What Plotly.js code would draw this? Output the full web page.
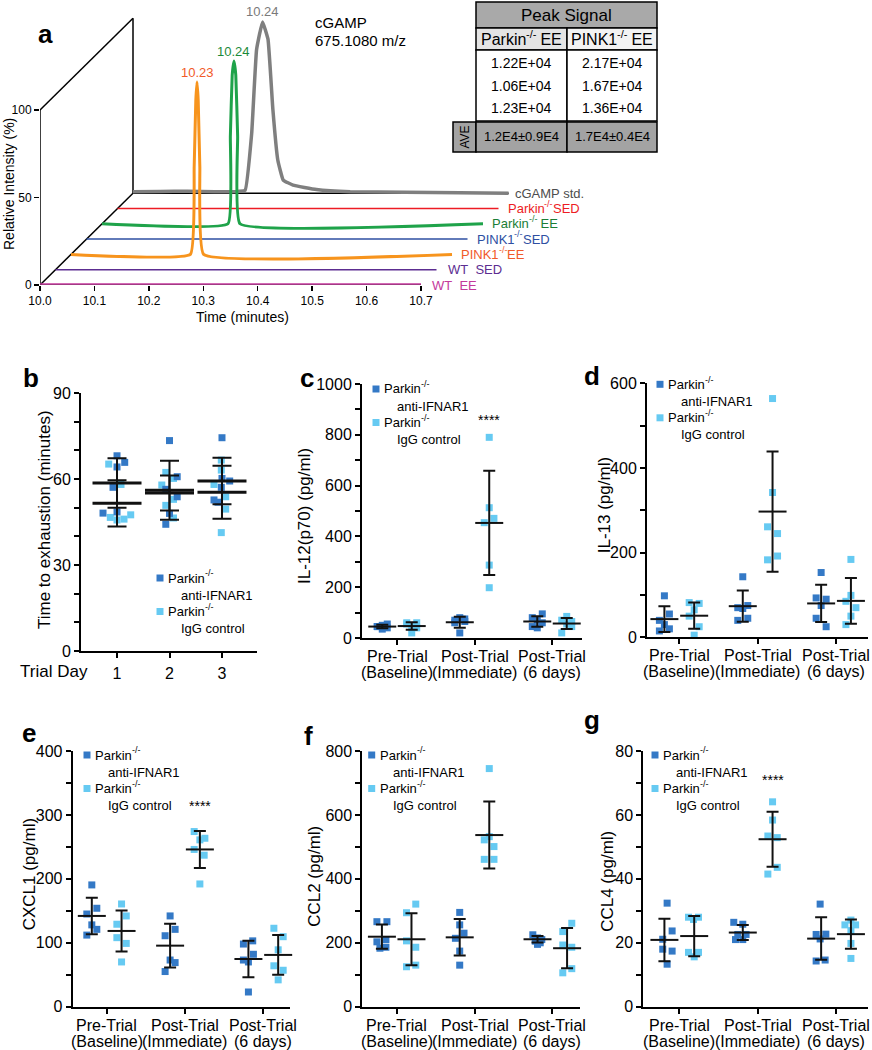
<!DOCTYPE html>
<html><head><meta charset="utf-8">
<script src="https://cdn.plot.ly/plotly-3.0.1.min.js"></script>
<style>html,body{margin:0;padding:0;background:#fff}</style>
</head><body><div id="chart" style="width:872px;height:1050px"></div>
<script>
// ================= DATA =================
// ---- Panel a: chromatograms (time, min ; relative intensity, %) ----
const chromNames = ['cGAMP std.', 'Parkin<sup>-/-</sup>SED', 'Parkin<sup>-/-</sup> EE', 'PINK1<sup>-/-</sup>SED', 'PINK1<sup>-/-</sup>EE', 'WT\u00a0\u00a0SED', 'WT\u00a0\u00a0EE'];
const stdTime = [10.0, 10.05, 10.10, 10.15, 10.19, 10.206, 10.218, 10.227, 10.238, 10.248, 10.257, 10.266, 10.276, 10.294, 10.337, 10.399, 10.50, 10.60, 10.69];
const stdInt  = [0.8, 1.0, 1.1, 0.8, 0.9, 1.7, 34, 82, 97.9, 88, 47.7, 19, 7.5, 4.6, 2.1, 0.8, 0.5, 0.2, 0.0];
const stdBaseTime = [10.0, 10.69];
const stdBaseInt = [0, 0];
const parkinEETime = [10.0, 10.2315, 10.2358, 10.2392, 10.2425, 10.2458, 10.2492, 10.2535, 10.70];
const parkinEEInt  = [0, 0, 50, 85, 93, 85, 50, 0, 0];
const pink1EETime = [10.0, 10.2193, 10.2263, 10.2293, 10.2315, 10.2337, 10.2367, 10.2437, 10.70];
const pink1EEInt  = [0, 0, 50, 88, 98.5, 88, 50, 0, 0];
const sedTime = [10.0, 10.70];
const parkinSEDInt = [0, 0];
const pink1SEDInt = [0, 0];
const wtSEDInt = [0, 0];
const wtEEInt = [0.6, 0.6];
const peakLabels = ['10.24', '10.24', '10.23'];   // cGAMP std, Parkin EE, PINK1 EE
const aTickVals = [10.0, 10.1, 10.2, 10.3, 10.4, 10.5, 10.6, 10.7];
const aYTickVals = [0, 50, 100];
const cgampLines = ['cGAMP', '675.1080 m/z'];

// ---- Panel a: table ----
const tableTitle = 'Peak Signal';
const tableCols = ['Parkin<sup>-/-</sup> EE', 'PINK1<sup>-/-</sup> EE'];
const parkinEEPeak = ['1.22E+04', '1.06E+04', '1.23E+04'];
const pink1EEPeak  = ['2.17E+04', '1.67E+04', '1.36E+04'];
const aveLabel = 'AVE';
const aveVals = ['1.2E4\u00b10.9E4', '1.7E4\u00b10.4E4'];

// ---- common ----
const legendLines = ['Parkin<sup>-/-</sup>', 'anti-IFNAR1', 'Parkin<sup>-/-</sup>', 'IgG control'];
const trialDays = [1, 2, 3];
const timeLine1 = ['Pre-Trial', 'Post-Trial', 'Post-Trial'];
const timeLine2 = ['(Baseline)', '(Immediate)', '(6 days)'];
const sigText = '****';

// ---- Panel b: time to exhaustion (min) ----
const bDark  = [[68.1, 64.2, 65.8, 57.1, 48.1, 48.5], [73.4, 60.8, 56.4, 53.8, 48.0, 44.2], [74.4, 60.2, 59.3, 57.1, 52.7, 51.9]];
const bDarkJit  = [[0, 0, 7.7, -4, -14, 0], [0, 7.7, -3.7, 7.7, 0, -3.7], [0, 0, 7.7, -0.7, -8, -4]];
const bLight = [[65.2, 58.1, 46.6, 45.7, 46.0, 47.5], [62.3, 60.2, 57.9, 52.9, 50.8, 46.4], [66.6, 63.1, 58.1, 53.8, 49.5, 41.3]];
const bLightJit = [[-8.3, 4, -6.7, 0, 7, 13.7], [-3.7, 4, -7.7, 4, -3.7, 4], [-0.7, -0.7, -8, 3.7, 3.7, -0.7]];
const bDarkMean = [58.6, 56.1, 59.3], bDarkSD = [8.6, 10.3, 8.1];
const bLightMean = [51.5, 55.1, 55.4], bLightSD = [8.1, 6.1, 9.25];

// ---- Panel c: IL-12(p70) ----
const cDark  = [[35, 40, 45, 50, 55, 45], [80, 75, 70, 65, 60, 20], [95, 80, 70, 60, 45, 40]];
const cDarkJit  = [[0, 5, -5, 0, 5, -5], [0, 5, -5, 5, -5, 0], [5, -5, 0, 5, -5, 0]];
const cLight = [[60, 60, 20, 40, 55, 45], [790, 513, 471, 454, 287, 198], [85, 70, 65, 55, 45, 20]];
const cLightJit = [[-5, 5, 0, 5, -5, 0], [0, 0, 4.7, -5, 0, 0], [0, -5, 5, 0, 5, -5]];
const cDarkMean = [45, 62, 65], cDarkSD = [7, 22, 21];
const cLightMean = [47, 453, 57], cLightSD = [15, 205, 22];

// ---- Panel d: IL-13 ----
const dDark  = [[98, 55, 40, 30, 20, 15], [143, 75, 70, 68, 45, 40], [153, 93, 90, 75, 45, 25]];
const dDarkJit  = [[0, 5, -5, 0, 5, -5], [0, 5, -5, 0, 5, -5], [0, -5, 5, 0, -5, 5]];
const dLight = [[82, 80, 65, 50, 25, 5], [564, 342, 261, 245, 183, 192], [184, 99, 85, 70, 50, 30]];
const dLightJit = [[-5, 5, 0, -5, 5, 0], [0, 0, -5, 5, -5, 5], [0, 0, -5, 5, 0, -5]];
const dDarkMean = [43, 73.5, 80], dDarkSD = [30.5, 36.9, 44];
const dLightMean = [51, 297, 86], dLightSD = [31, 142, 54];

// ---- Panel e: CXCL1 ----
const eDark  = [[190.5, 154, 145, 128, 121, 112], [142, 111, 121, 73, 69, 55], [103, 98, 82, 73, 70, 23]];
const eDarkJit  = [[0, 5, -5, 0, 5, -5], [0, -5, 5, 0, 5, -5], [4.3, -5, 5, -5, 0, 0]];
const eLight = [[160.7, 142, 129, 108, 99, 70], [274, 261, 263.5, 246, 237, 192], [122.7, 109.5, 89, 64, 57, 42]];
const eLightJit = [[0, 4.7, -4.7, -4.7, 4.7, 0], [-5.7, 0, 5, -5.7, 4.3, 0], [-4.3, 5, 0, -4.3, 5, 0]];
const eDarkMean = [142, 95.5, 74.6], eDarkSD = [28.6, 34.2, 28.5];
const eLightMean = [118.5, 246, 81], eLightSD = [32, 29, 31];

// ---- Panel f: CCL2 ----
const fDark  = [[266, 266, 203, 210, 183, 186], [295, 256, 230, 214, 174, 130], [225, 215, 210, 205, 200, 195]];
const fDarkJit  = [[-5, 5, -5, 4, -2, 4], [0, 0, 4.3, -4.3, 0, 0], [-4.7, 0, 4.3, -2.3, 2.7, 0]];
const fLight = [[321, 294, 206, 186, 125, 130], [745, 532, 522, 501, 461, 461], [235, 261, 193, 186, 106, 119]];
const fLightJit = [[4.3, -5, -5, 4.3, -5, 4.3], [0, 0, -5, 4.7, -5, 4.7], [-4.3, 4.7, -4.3, 4.7, -4.3, 4.7]];
const fDarkMean = [219, 217, 211], fDarkSD = [38, 57, 10];
const fLightMean = [211, 537, 183], fLightSD = [81, 105, 63];

// ---- Panel g: CCL4 ----
const gDark  = [[32.4, 23.7, 21.1, 18, 17.4, 13.3], [26.4, 25.8, 22.6, 22.6, 21, 21], [32.1, 22.6, 22.7, 21.2, 14.3, 14.6]];
const gDarkJit  = [[2.7, 7.7, -1.7, -1.7, 7.7, 2.7], [-9, 0, -5, 3.3, -7.3, 0], [-1, -5, 4.7, -1, -5, 4]];
const gLight = [[28, 28, 27.3, 17, 17, 15.6], [64.1, 58.4, 53.4, 52.9, 43.6, 41.5], [27.1, 25.6, 25.6, 23.8, 19.8, 15.1]];
const gLightJit = [[-5.7, 4.3, -0.7, -5.7, 4.3, 0], [0, 0, -4.7, 4.7, 4.7, -4.7], [0, -6, 4.7, 0, 0, 0]];
const gDarkMean = [20.9, 23.2, 21.3], gDarkSD = [6.65, 2.35, 6.65];
const gLightMean = [22.1, 52.4, 22.7], gLightSD = [6.3, 8.6, 4.55];

// ================= LAYOUT / DRAWING =================
const W = 872, H = 1050;
const px = v => v / W;
const py = v => 1 - v / H;
const FONT = 'Liberation Sans, Arial, Helvetica, sans-serif';
const DARK = '#3479c6', LIGHT = '#66caf2';

const traces = [], shapes = [], annotations = [];
const layout = {
  width: W, height: H, margin: {l: 0, r: 0, t: 0, b: 0}, showlegend: false,
  paper_bgcolor: '#fff', plot_bgcolor: 'rgba(0,0,0,0)',
  font: {family: FONT, color: '#000', size: 12}, shapes, annotations
};

// text measuring for superscript layout
const mctx = document.createElement('canvas').getContext('2d');
function tw(s, size) { mctx.font = size + 'px "Liberation Sans", Arial, sans-serif'; return mctx.measureText(s).width; }
function splitSup(s) {
  const m = s.match(/^(.*?)<sup>(.*?)<\/sup>(.*)$/);
  return m ? [m[1], m[2], m[3].replace(/^ /, '\u00a0')] : [s, '', ''];
}

// generic text (paper pixel coords); handles one <sup> by splitting into separate annotations
function addText(text, x, y, size, o = {}) {
  const base = {xref: o.xref || 'paper', yref: o.yref || 'paper', showarrow: false, yanchor: 'middle',
    textangle: o.angle || 0};
  const X = o.xref && o.xref !== 'paper' ? x : px(x);
  const Y = o.yref && o.yref !== 'paper' ? y : py(y);
  const font = sz => ({family: FONT, size: sz, color: o.color || '#000', weight: o.weight || 'normal'});
  const [a, s, b] = splitSup(text);
  if (!s) {
    annotations.push(Object.assign({}, base, {text, x: X, y: Y, xanchor: o.xanchor || 'center',
      xshift: o.xshift || 0, yshift: o.yshift || 0, font: font(size)}));
    return;
  }
  const ss = Math.round(size * 0.7);
  const wa = tw(a, size), ws = tw(s, ss), wb = tw(b, size);
  let start = (o.xshift || 0);
  if ((o.xanchor || 'center') === 'center') start -= (wa + ws + wb) / 2;
  annotations.push(Object.assign({}, base, {text: a, x: X, y: Y, xanchor: 'left', xshift: start, yshift: o.yshift || 0, font: font(size), borderpad: 0, borderwidth: 0}));
  annotations.push(Object.assign({}, base, {text: s, x: X, y: Y, xanchor: 'left', xshift: start + wa, yshift: (o.yshift || 0) + size * 0.36, font: font(ss), borderpad: 0, borderwidth: 0}));
  if (b) annotations.push(Object.assign({}, base, {text: b, x: X, y: Y, xanchor: 'left', xshift: start + wa + ws, yshift: o.yshift || 0, font: font(size), borderpad: 0, borderwidth: 0}));
}
function rect(x0, y0, x1, y1, fill, lw) {
  shapes.push({type: 'rect', xref: 'paper', yref: 'paper', x0: px(x0), x1: px(x1), y0: py(y1), y1: py(y0),
    fillcolor: fill, line: {color: '#000', width: lw === undefined ? 1.5 : lw}, layer: 'above'});
}

// ---------- Panel a ----------
const A = {xl: 40, xr: 600, y0: 285, yt: 5, pxPerMin: 544.3, pxPerPct: 1.75};
const dT = 15.5 / A.pxPerMin, dI = 15.3 / A.pxPerPct;
layout.xaxis = {
  domain: [px(A.xl), px(A.xr)], range: [aTickVals[0], aTickVals[0] + (A.xr - A.xl) / A.pxPerMin], anchor: 'y',
  showline: false, showgrid: false, zeroline: false, ticks: 'outside', ticklen: 5, tickwidth: 1.5, tickcolor: '#000',
  tickmode: 'array', tickvals: aTickVals, ticktext: aTickVals.map(v => v.toFixed(1)), tickfont: {size: 12}, fixedrange: true
};
layout.yaxis = {
  domain: [py(A.y0), py(A.yt)], range: [0, (A.y0 - A.yt) / A.pxPerPct], anchor: 'x',
  showline: false, showgrid: false, zeroline: false, ticks: 'outside', ticklen: 5, tickwidth: 1.5, tickcolor: '#000',
  tickmode: 'array', tickvals: aYTickVals, tickfont: {size: 12}, fixedrange: true
};
function aLine(t0, i0, t1, i1) {
  shapes.push({type: 'line', xref: 'x', yref: 'y', x0: t0, y0: i0, x1: t1, y1: i1, line: {color: '#000', width: 1.5}, layer: 'below'});
}
const tMin = aTickVals[0], tMax = aTickVals[aTickVals.length - 1], iMax = aYTickVals[aYTickVals.length - 1];
aLine(tMin, 0, tMax, 0);
aLine(tMin, 0, tMin, iMax);
aLine(tMin, iMax, tMin + 6 * dT, iMax + 6 * dI);
aLine(tMin, 0, tMin + 6 * dT, 6 * dI);
aLine(tMin + 6 * dT, 6 * dI, tMin + 6 * dT, iMax + 6 * dI);

const chrom = [
  {name: chromNames[0], t: stdTime, i: stdInt, d: 6, color: '#7f7f7f', w: 3.5, lc: '#4d4d4d', peak: peakLabels[0], pc: '#7a7a7a'},
  {name: chromNames[1], t: sedTime, i: parkinSEDInt, d: 5, color: '#ed1c24', w: 1.5, lc: '#ed1c24'},
  {name: chromNames[2], t: parkinEETime, i: parkinEEInt, d: 4, color: '#1fa34a', w: 3, lc: '#1b7e36', peak: peakLabels[1], pc: '#1b8a3a'},
  {name: chromNames[3], t: sedTime, i: pink1SEDInt, d: 3, color: '#2e4fa2', w: 1.5, lc: '#2e4fa2'},
  {name: chromNames[4], t: pink1EETime, i: pink1EEInt, d: 2, color: '#f7941d', w: 3, lc: '#f15a29', peak: peakLabels[2], pc: '#f15a29'},
  {name: chromNames[5], t: sedTime, i: wtSEDInt, d: 1, color: '#5c2d91', w: 1.5, lc: '#5c2d91'},
  {name: chromNames[6], t: sedTime, i: wtEEInt, d: 0, color: '#c4399c', w: 1.5, lc: '#c4399c'}
];
traces.push({type: 'scatter', mode: 'lines', xaxis: 'x', yaxis: 'y',
  x: stdBaseTime.map(t => t + 6 * dT), y: stdBaseInt.map(v => v + 6 * dI), line: {color: '#000', width: 1.5}, hoverinfo: 'skip'});
chrom.forEach(s => {
  traces.push({type: 'scatter', mode: 'lines', xaxis: 'x', yaxis: 'y',
    x: s.t.map(t => t + s.d * dT), y: s.i.map(v => v + s.d * dI),
    line: {color: s.color, width: s.w, shape: 'spline', smoothing: 0.3}, hoverinfo: 'skip'});
  addText(s.name, s.t[s.t.length - 1] + s.d * dT, s.d * dI, 13,
    {xref: 'x', yref: 'y', xanchor: 'left', xshift: s.d === 6 ? 4 : 9, color: s.lc});
  if (s.peak) {
    let k = 0; s.i.forEach((v, j) => { if (v > s.i[k]) k = j; });
    addText(s.peak, s.t[k] + s.d * dT, s.i[k] + s.d * dI, 13, {xref: 'x', yref: 'y', yshift: 10, color: s.pc});
  }
});
addText('Relative Intensity (%)', 9, 184, 14, {angle: -90});
addText('Time (minutes)', 242, 317, 14);
addText(cgampLines[0], 313, 23, 15, {xanchor: 'left'});
addText(cgampLines[1], 313, 41, 15, {xanchor: 'left'});

// table
rect(476, 2, 657, 28, '#a9a9a9');
rect(476, 28, 567, 50, '#e4e4e4');
rect(567, 28, 657, 50, '#f3f3f3');
rect(476, 50, 567, 121, '#ffffff');
rect(567, 50, 657, 121, '#ffffff');
rect(453, 122, 476, 152, '#a3a3a3');
rect(476, 122, 567, 152, '#a3a3a3');
rect(567, 122, 657, 152, '#a3a3a3');
addText(tableTitle, 566.5, 15.5, 17);
addText(tableCols[0], 521.5, 39.5, 16);
addText(tableCols[1], 612, 39.5, 16);
const rowY = [63, 86, 108.3];
parkinEEPeak.forEach((v, j) => addText(v, 521.5, rowY[j], 14));
pink1EEPeak.forEach((v, j) => addText(v, 612, rowY[j], 14));
addText(aveVals[0], 521.5, 137, 13);
addText(aveVals[1], 612, 137, 13);
addText(aveLabel, 464.5, 137, 12, {angle: -90});

// ---------- Panels b-g ----------
function buildPanel(k, cfg) {
  const xa = 'xaxis' + k, ya = 'yaxis' + k, xr = 'x' + k, yr = 'y' + k;
  const pxPerUnit = (cfg.xr - cfg.xl) / (cfg.xrange[1] - cfg.xrange[0]);
  layout[xa] = {
    domain: [px(cfg.xl), px(cfg.xr)], range: cfg.xrange, anchor: yr,
    showline: true, linewidth: 2, linecolor: '#000', mirror: false,
    ticks: 'outside', ticklen: 5, tickwidth: 2, tickcolor: '#000', showgrid: false, zeroline: false,
    tickmode: 'array', tickvals: cfg.cats, ticktext: cfg.tickText || cfg.cats.map(() => ''),
    showticklabels: !!cfg.tickText, tickfont: {size: 16}, ticklabelstandoff: 2, fixedrange: true
  };
  layout[ya] = {
    domain: [py(cfg.yb), py(cfg.yt)], range: [0, cfg.ymax], anchor: xr,
    showline: true, linewidth: 2, linecolor: '#000',
    ticks: 'outside', ticklen: 5, tickwidth: 2, tickcolor: '#000', showgrid: false, zeroline: false,
    tickmode: 'linear', tick0: 0, dtick: cfg.dtick, tickfont: {size: 16}, ticklabelstandoff: 0,
    minor: {ticks: 'outside', ticklen: 5, tickwidth: 2, tickcolor: '#000', dtick: cfg.minor, tick0: 0, showgrid: false},
    fixedrange: true
  };
  const groups = [
    {vals: cfg.dark, jit: cfg.darkJit, mean: cfg.darkMean, sd: cfg.darkSD, color: DARK, off: -cfg.off},
    {vals: cfg.light, jit: cfg.lightJit, mean: cfg.lightMean, sd: cfg.lightSD, color: LIGHT, off: cfg.off}
  ];
  const order = cfg.lightFirst ? [1, 0] : [0, 1];
  order.forEach(gi => {
    const g = groups[gi];
    const xs = [], ys = [];
    g.vals.forEach((arr, ci) => arr.forEach((v, j) => {
      xs.push(cfg.cats[ci] + g.off + g.jit[ci][j] / pxPerUnit); ys.push(v);
    }));
    traces.push({type: 'scatter', mode: 'markers', xaxis: xr, yaxis: yr, x: xs, y: ys, cliponaxis: false,
      marker: {symbol: 'square', size: 7, color: g.color, line: {width: 0}}, hoverinfo: 'skip'});
  });
  groups.forEach(g => {
    traces.push({type: 'scatter', mode: 'markers', xaxis: xr, yaxis: yr, cliponaxis: false,
      x: cfg.cats.map(c => c + g.off), y: g.mean,
      marker: {symbol: 'line-ew', size: cfg.meanLen, color: '#111', line: {width: cfg.meanW, color: '#111'}},
      error_y: {type: 'data', array: g.sd, visible: true, color: '#111', thickness: 2, width: cfg.capW},
      hoverinfo: 'skip'});
  });
  const L = cfg.legend;
  const rows = [0, 17, 33.5, 50];
  rect(L.x - 3.5, L.y + rows[0] - 3.5, L.x + 3.5, L.y + rows[0] + 3.5, DARK, 0);
  rect(L.x - 3.5, L.y + rows[2] - 3.5, L.x + 3.5, L.y + rows[2] + 3.5, LIGHT, 0);
  addText(legendLines[0], L.x + 8, L.y + rows[0], 13, {xanchor: 'left'});
  addText(legendLines[1], L.x + 19, L.y + rows[1], 13, {xanchor: 'left'});
  addText(legendLines[2], L.x + 8, L.y + rows[2], 13, {xanchor: 'left'});
  addText(legendLines[3], L.x + 19, L.y + rows[3], 13, {xanchor: 'left'});
  addText(cfg.title, cfg.titleX, (cfg.yb + cfg.yt) / 2 + (cfg.titleDY || 0), 17, {angle: -90});
  addText(cfg.letter, cfg.letterX, cfg.letterY, 26, {weight: 'bold'});
  if (cfg.sigY !== undefined) {
    addText(sigText, cfg.cats[1] + cfg.off, cfg.sigY, 14, {xref: xr, yref: yr, yshift: -3});
  }
  if (!cfg.tickText) {
    cfg.cats.forEach((c, ci) => {
      annotations.push({text: timeLine1[ci], xref: xr, yref: 'paper', x: c, y: py(cfg.yb + 18.5), showarrow: false,
        xanchor: 'center', yanchor: 'middle', font: {family: FONT, size: 16, color: '#000'}});
      annotations.push({text: timeLine2[ci], xref: xr, yref: 'paper', x: c, y: py(cfg.yb + 34.5), showarrow: false,
        xanchor: 'center', yanchor: 'middle', font: {family: FONT, size: 16, color: '#000'}});
    });
  }
}

const cat3 = [0, 1, 2];
buildPanel(2, {xl: 81, xr: 257, yb: 651, yt: 393, xrange: [0.314, 3.667], ymax: 90, dtick: 30, minor: 10,
  cats: trialDays, tickText: trialDays.map(String), off: 0, meanLen: 35, meanW: 3, capW: 9.5, lightFirst: true,
  dark: bDark, darkJit: bDarkJit, light: bLight, lightJit: bLightJit,
  darkMean: bDarkMean, darkSD: bDarkSD, lightMean: bLightMean, lightSD: bLightSD,
  legend: {x: 160, y: 578}, title: 'Time to exhaustion (minutes)', titleX: 44, titleDY: -2,
  letter: 'b', letterX: 31, letterY: 377.5});
addText('Trial Day', 53.5, 671, 17);

buildPanel(3, {xl: 362, xr: 582, yb: 638, yt: 384, xrange: [-0.4516, 2.387], ymax: 1000, dtick: 200, minor: 100,
  cats: cat3, off: 0.19, meanLen: 20, meanW: 2, capW: 6,
  dark: cDark, darkJit: cDarkJit, light: cLight, lightJit: cLightJit,
  darkMean: cDarkMean, darkSD: cDarkSD, lightMean: cLightMean, lightSD: cLightSD,
  legend: {x: 376, y: 389}, title: 'IL-12(p70) (pg/ml)', titleX: 304, titleDY: 5,
  letter: 'c', letterX: 307, letterY: 378, sigY: 870});

buildPanel(4, {xl: 647, xr: 868, yb: 637.3, yt: 383.3, xrange: [-0.412, 2.408], ymax: 600, dtick: 200, minor: 100,
  cats: cat3, off: 0.19, meanLen: 20, meanW: 2, capW: 6,
  dark: dDark, darkJit: dDarkJit, light: dLight, lightJit: dLightJit,
  darkMean: dDarkMean, darkSD: dDarkSD, lightMean: dLightMean, lightSD: dLightSD,
  legend: {x: 660, y: 384.3}, title: 'IL-13 (pg/ml)', titleX: 604, titleDY: -5,
  letter: 'd', letterX: 592, letterY: 376.5, sigY: 612});

buildPanel(5, {xl: 72.7, xr: 290, yb: 1006.7, yt: 751, xrange: [-0.434, 2.341], ymax: 400, dtick: 100, minor: 50,
  cats: cat3, off: 0.19, meanLen: 20, meanW: 2, capW: 6,
  dark: eDark, darkJit: eDarkJit, light: eLight, lightJit: eLightJit,
  darkMean: eDarkMean, darkSD: eDarkSD, lightMean: eLightMean, lightSD: eLightSD,
  legend: {x: 87, y: 755}, title: 'CXCL1 (pg/ml)', titleX: 29.5, titleDY: -4,
  letter: 'e', letterX: 29, letterY: 733, sigY: 318});

buildPanel(6, {xl: 362.3, xr: 580, yb: 1006.7, yt: 751, xrange: [-0.442, 2.356], ymax: 800, dtick: 200, minor: 100,
  cats: cat3, off: 0.19, meanLen: 20, meanW: 2, capW: 6,
  dark: fDark, darkJit: fDarkJit, light: fLight, lightJit: fLightJit,
  darkMean: fDarkMean, darkSD: fDarkSD, lightMean: fLightMean, lightSD: fLightSD,
  legend: {x: 371.7, y: 755}, title: 'CCL2 (pg/ml)', titleX: 315, titleDY: -2,
  letter: 'f', letterX: 308, letterY: 735.5, sigY: 803});

buildPanel(7, {xl: 643.3, xr: 868, yb: 1006.7, yt: 751, xrange: [-0.4595, 2.408], ymax: 80, dtick: 20, minor: 10,
  cats: cat3, off: 0.19, meanLen: 20, meanW: 2, capW: 6,
  dark: gDark, darkJit: gDarkJit, light: gLight, lightJit: gLightJit,
  darkMean: gDarkMean, darkSD: gDarkSD, lightMean: gLightMean, lightSD: gLightSD,
  legend: {x: 655, y: 755}, title: 'CCL4 (pg/ml)', titleX: 608, titleDY: 3,
  letter: 'g', letterX: 592, letterY: 720, sigY: 72});

addText('a', 45, 34, 26, {weight: 'bold'});

Plotly.newPlot('chart', traces, layout, {staticPlot: true, displayModeBar: false});
</script>
</body></html>
